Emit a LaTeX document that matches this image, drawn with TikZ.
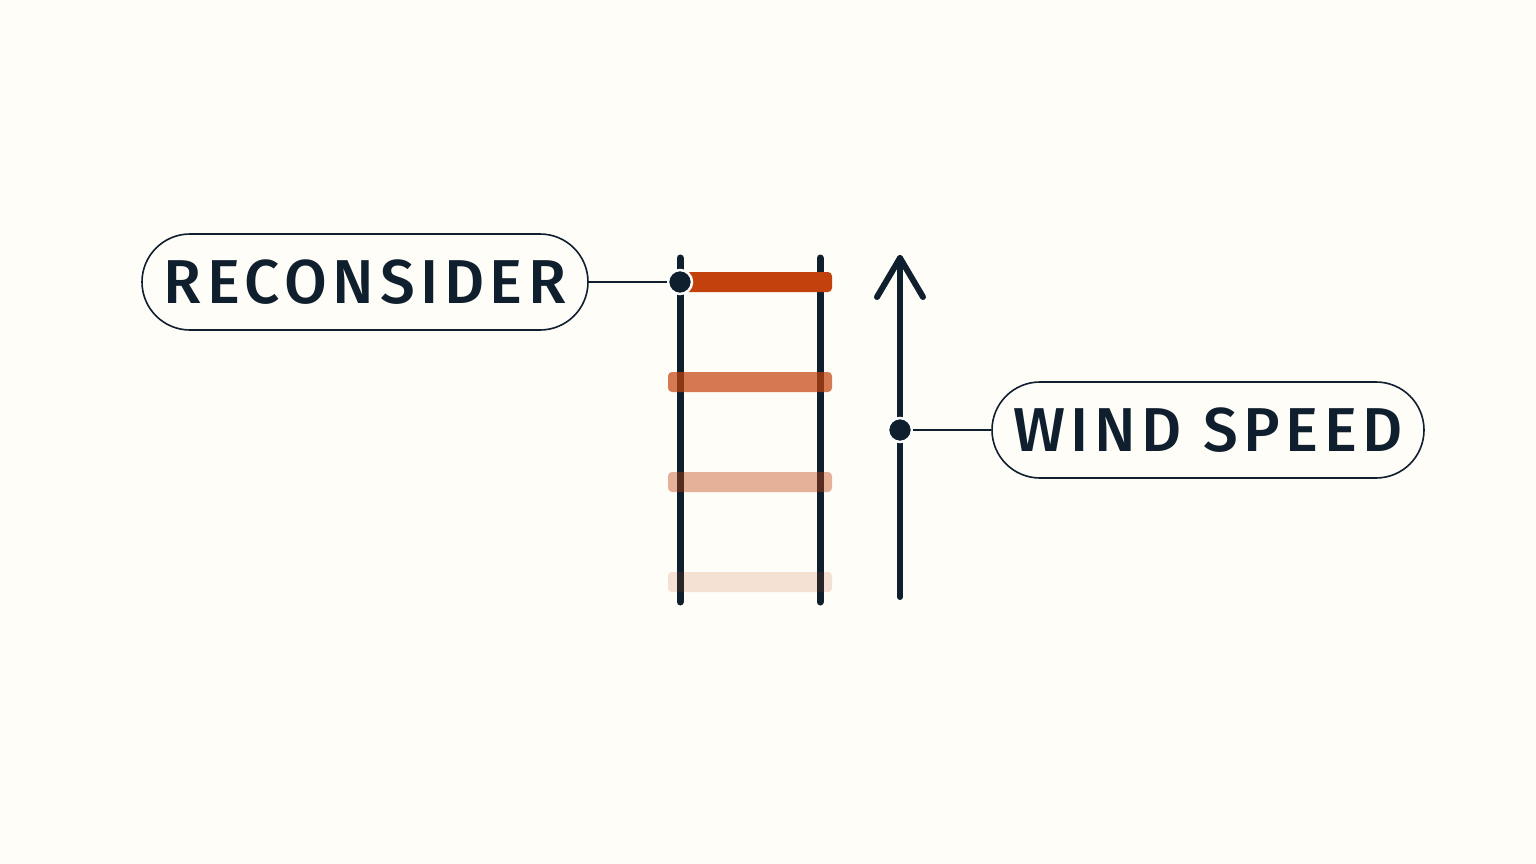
\documentclass[tikz,border=0pt]{standalone}
\usepackage{fontspec}
\setmainfont{Fira Sans}[UprightFont=* Medium]
\usetikzlibrary{positioning}
\definecolor{ink}{HTML}{0F1F2E}
\definecolor{rust}{HTML}{C2410C}
\definecolor{paper}{HTML}{FFFDF8}
\tikzset{
  rail/.style={line width=7pt, ink, line cap=round},
  rung/.style={fill=rust, rounded corners=4pt},
  tag/.style={draw=ink, line width=1.6pt, rounded corners=48pt, minimum height=96pt,
    inner xsep=0pt, text=ink, font=\fontsize{62}{62}\selectfont\addfontfeature{LetterSpace=9}},
  pin/.style={circle, fill=ink, draw=white, line width=2.5pt, minimum size=24pt, inner sep=0pt},
  lead/.style={draw=ink, line width=1.6pt}
}
\begin{document}
\begin{tikzpicture}[x=1pt,y=-1pt]
\fill[paper] (0,0) rectangle (1536,864);
\useasboundingbox (0,0) rectangle (1536,864);
% ladder
\coordinate (ltop) at (680,258);
\coordinate (lbot) at (680,602);
\coordinate (rtop) at (820,258);
\coordinate (rbot) at (820,602);
\draw[rail] (ltop) -- (lbot);
\draw[rail] (rtop) -- (rbot);
\foreach \y/\op in {382/.7, 482/.4, 582/.15}
  \fill[rung, opacity=\op] (668,\y-10) rectangle (832,\y+10);
\fill[rung] (684,272) rectangle (832,292);
% wind arrow
\coordinate (abot) at (900,597);
\coordinate (atop) at (900,258);
\draw[rail, line width=6pt, line join=round] (abot) -- (atop);
\draw[rail, line width=6pt, line join=round] (877,297) -- (atop) -- (923,297);
% labels
\node[tag, minimum width=446pt] (reconsider) at (365,282) {RECONSIDER};
\node[pin] (p1) at (680,282) {};
\draw[lead] (reconsider.east) -- (p1);
\node[tag, minimum width=432pt] (wind) at (1208,430) {WIND SPEED};
\node[pin] (p2) at (900,430) {};
\draw[lead] (p2) -- (wind.west);
\end{tikzpicture}
\end{document}
